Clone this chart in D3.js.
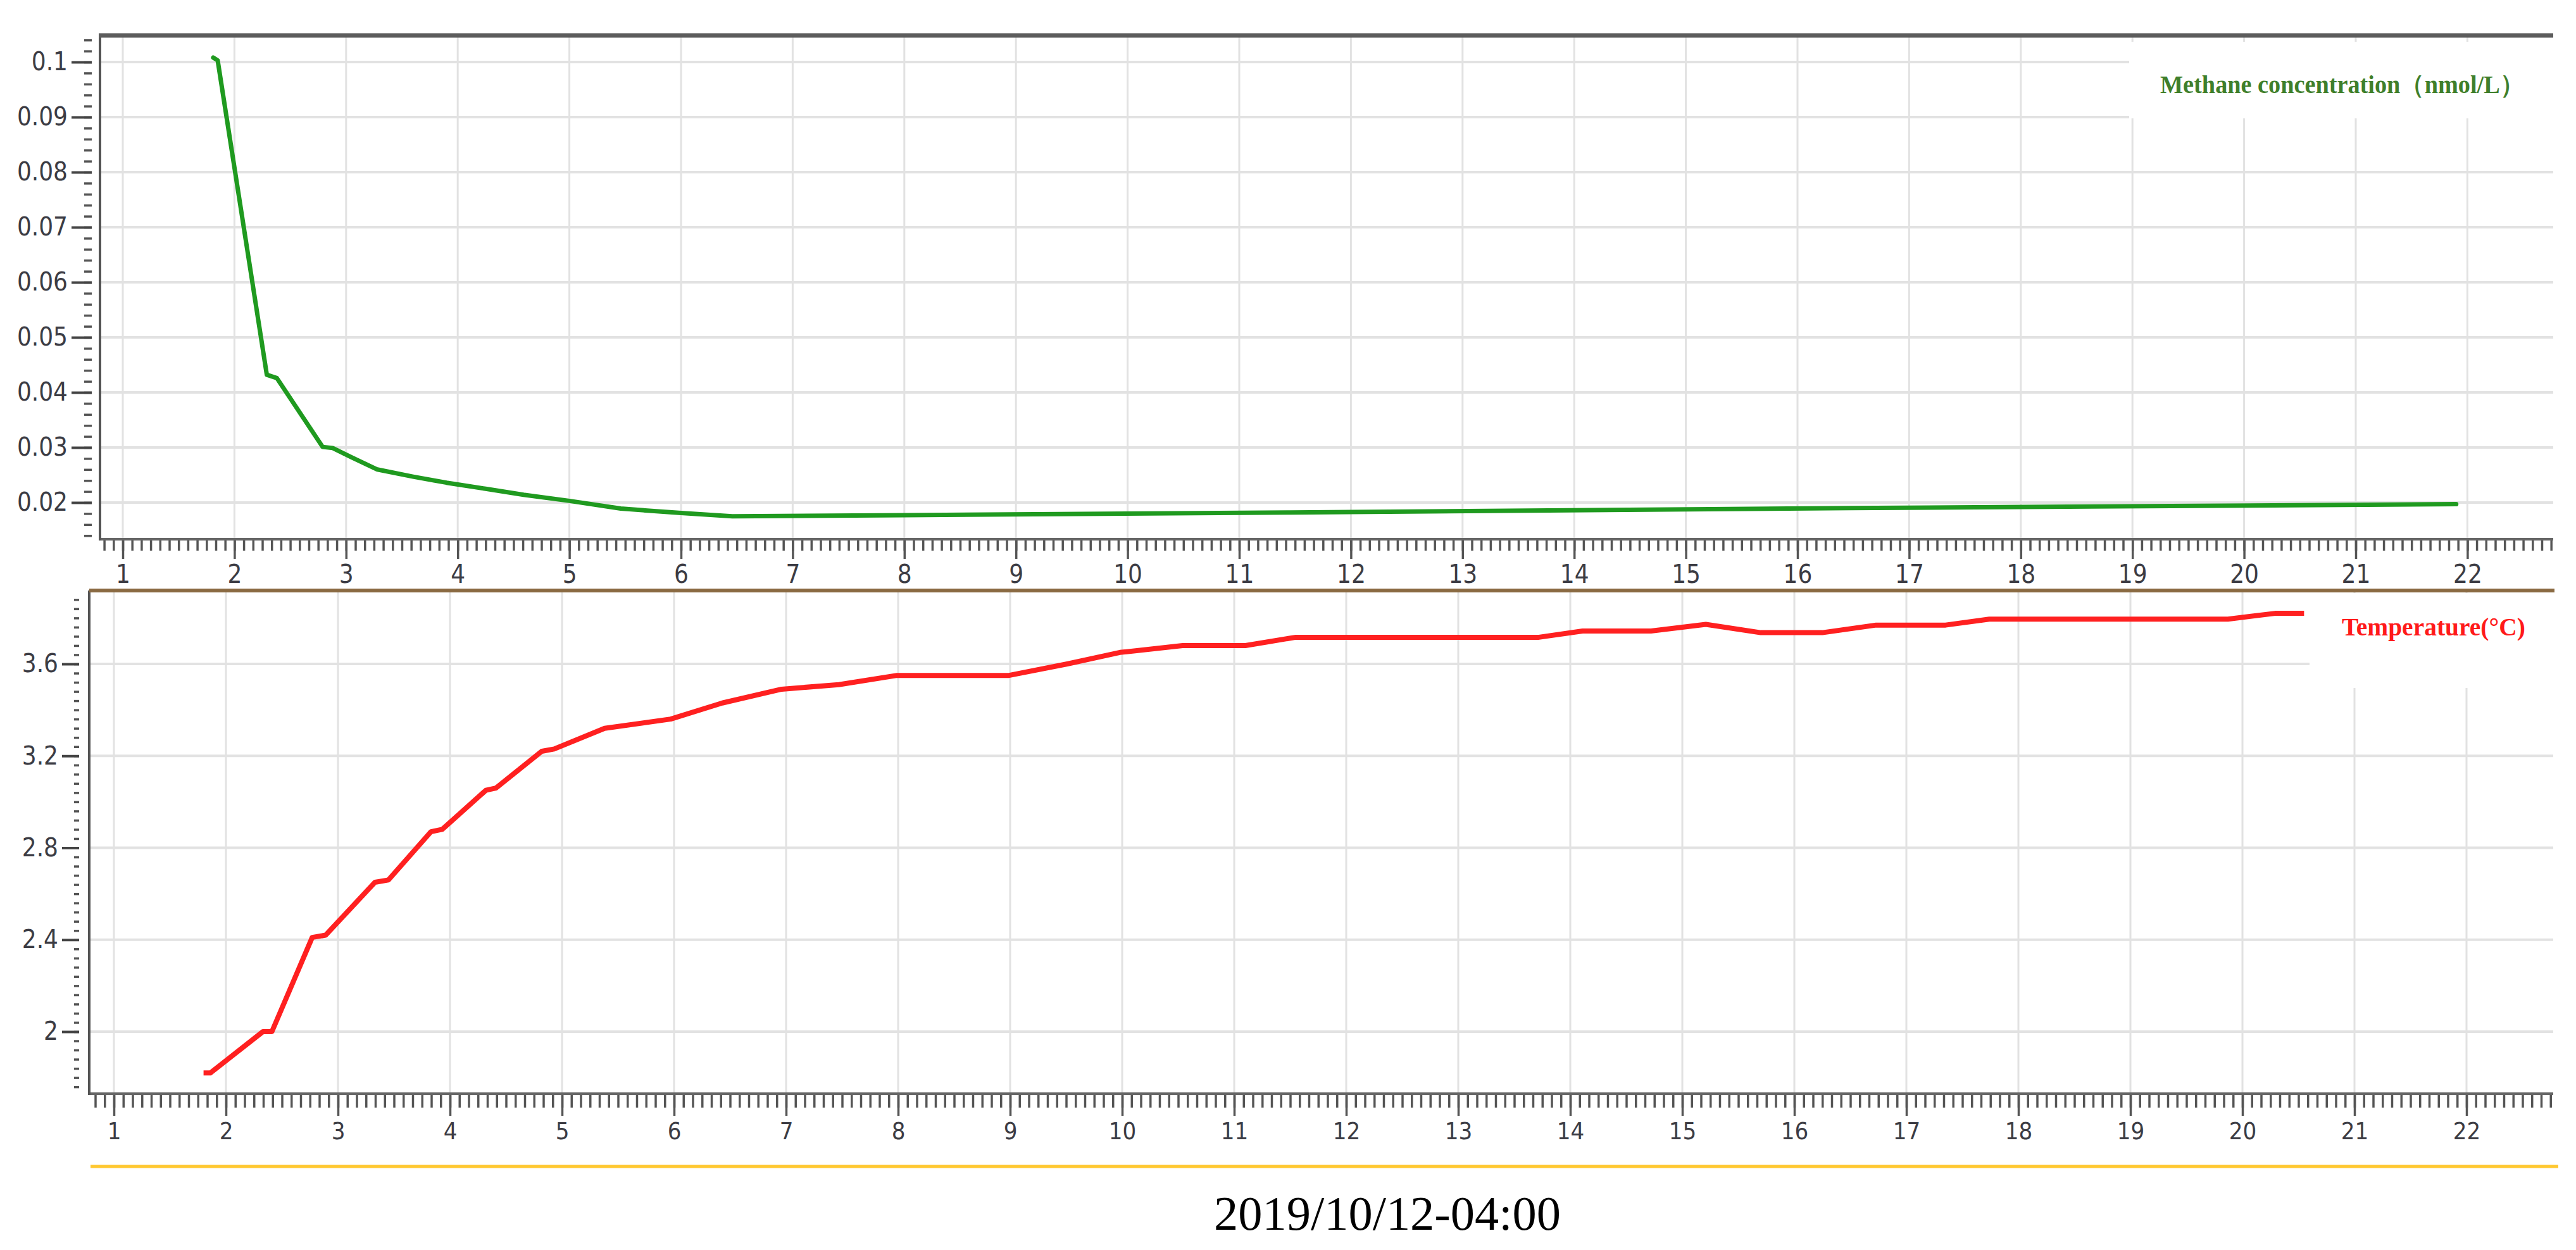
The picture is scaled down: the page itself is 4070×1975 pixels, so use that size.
<!DOCTYPE html>
<html><head><meta charset="utf-8">
<script src="https://cdn.jsdelivr.net/npm/d3@7"></script>
<style>
html,body{margin:0;padding:0;background:#fff;}
svg{display:block;}
.tick-label{font-family:"Liberation Sans Narrow","DejaVu Sans Condensed","Arial Narrow",sans-serif;fill:#3c3c44;}
</style></head>
<body>
<svg id="chart" width="4070" height="1975"></svg>
<script>
// ---------- data ----------
const xTickValues = [1,2,3,4,5,6,7,8,9,10,11,12,13,14,15,16,17,18,19,20,21,22];
const methaneTicks = [0.02,0.03,0.04,0.05,0.06,0.07,0.08,0.09,0.1];
const methaneTickLabels = ["0.02","0.03","0.04","0.05","0.06","0.07","0.08","0.09","0.1"];
const tempTicks = [2,2.4,2.8,3.2,3.6];
const tempTickLabels = ["2","2.4","2.8","3.2","3.6"];

const methaneX = [1.81,1.85,2.29,2.38,2.79,2.88,3.05,3.28,3.60,3.90,4.25,4.59,5.00,5.46,6.00,6.46,8.00,11.46,16.46,21.90];
const methaneY = [0.1008,0.1003,0.0432,0.0426,0.0301,0.0299,0.0282,0.0260,0.0247,0.0236,0.0225,0.0214,0.0203,0.0189,0.0181,0.0175,0.0177,0.0182,0.0190,0.0197];

const tempX = [1.80,1.86,2.33,2.41,2.77,2.89,3.33,3.45,3.83,3.93,4.32,4.41,4.82,4.93,5.38,5.97,6.43,6.96,7.47,7.99,8.99,9.51,9.98,10.54,11.10,11.55,13.72,14.11,14.72,15.21,15.70,16.25,16.73,17.35,17.74,19.87,20.29,20.55];
const tempY = [1.82,1.82,2.00,2.00,2.41,2.42,2.65,2.66,2.87,2.88,3.05,3.06,3.22,3.23,3.32,3.36,3.43,3.49,3.51,3.55,3.55,3.60,3.65,3.68,3.68,3.716,3.716,3.743,3.743,3.772,3.736,3.736,3.769,3.769,3.795,3.795,3.82,3.82];

const methaneLabel = "Methane concentration（nmol/L）";
const tempLabel = "Temperature(°C)";
const dateLabel = "2019/10/12-04:00";

(function(){
// ---------- layout ----------
const svg = d3.select("#chart");
const topP = {left:158, right:4034, top:56, bottom:852};
const botP = {left:141, right:4034, top:933, bottom:1728};

const xTop = d3.scaleLinear().domain([1,22]).range([194, 194+21*176.4]);
const yTop = d3.scaleLinear().domain([0.02,0.1]).range([794, 98]);
const xBot = d3.scaleLinear().domain([1,22]).range([180, 180+21*177]);
const yBot = d3.scaleLinear().domain([2,3.6]).range([1630, 1049]);

const gridColor = "#e2e2e2";

function drawPanel(p, xs, ys, yTicksV, yLabels, opts){
  const g = svg.append("g");
  g.selectAll(".vg").data(xTickValues).join("line")
    .attr("x1", d=>xs(d)).attr("x2", d=>xs(d))
    .attr("y1", p.top).attr("y2", p.bottom)
    .attr("stroke", gridColor).attr("stroke-width", 3);
  g.selectAll(".hg").data(yTicksV).join("line")
    .attr("x1", p.left).attr("x2", p.right)
    .attr("y1", d=>ys(d)).attr("y2", d=>ys(d))
    .attr("stroke", gridColor).attr("stroke-width", 4);

  g.append("rect").attr("x", opts.box[0]).attr("y", opts.box[1])
    .attr("width", opts.box[2]).attr("height", opts.box[3]).attr("fill", "#fff");

  const x0 = xs.invert(p.left+4), x1 = xs.invert(p.right);
  const minor = d3.range(Math.ceil(x0*12), Math.floor(x1*12)+1).map(k=>k/12);
  g.append("g").attr("transform", `translate(0,${p.bottom})`)
    .call(d3.axisBottom(xs).tickValues(minor).tickSize(opts.minorLen).tickFormat(""))
    .call(a=>a.select(".domain").remove())
    .call(a=>a.selectAll("line").attr("stroke","#555").attr("stroke-width",3.5));
  const xa = g.append("g").attr("transform", `translate(0,${p.bottom})`)
    .call(d3.axisBottom(xs).tickValues(xTickValues).tickSize(opts.majorLen).tickPadding(opts.labelPad).tickFormat(d3.format("d")));
  xa.select(".domain").remove();
  xa.selectAll("line").attr("stroke","#555").attr("stroke-width",3.5);
  xa.selectAll("text").attr("class","tick-label").attr("font-size", opts.xFont);
  g.append("line").attr("x1", p.left-2).attr("x2", p.right)
    .attr("y1", p.bottom).attr("y2", p.bottom)
    .attr("stroke","#666").attr("stroke-width",4);

  const yDom = [ys.invert(p.bottom), ys.invert(p.top)];
  const yMinor = d3.range(Math.ceil(yDom[0]/opts.yMinorStep), Math.floor(yDom[1]/opts.yMinorStep)+1).map(k=>k*opts.yMinorStep);
  g.append("g").attr("transform", `translate(${opts.rulerX},0)`)
    .call(d3.axisLeft(ys).tickValues(yMinor).tickSize(opts.yMinorLen).tickFormat(""))
    .call(a=>a.select(".domain").remove())
    .call(a=>a.selectAll("line").attr("stroke","#555").attr("stroke-width",3.5));
  const ya = g.append("g").attr("transform", `translate(${opts.rulerX},0)`)
    .call(d3.axisLeft(ys).tickValues(yTicksV).tickSize(opts.yMajorLen).tickPadding(6).tickFormat((d,i)=>yLabels[i]));
  ya.select(".domain").remove();
  ya.selectAll("line").attr("stroke","#444").attr("stroke-width",4);
  ya.selectAll("text").attr("class","tick-label").attr("font-size", opts.yFont);
  g.append("line").attr("x1", p.left).attr("x2", p.left)
    .attr("y1", p.top).attr("y2", p.bottom+2)
    .attr("stroke","#555").attr("stroke-width",4);
  return g;
}

drawPanel(topP, xTop, yTop, methaneTicks, methaneTickLabels, {
  box:[3364, 66, 680, 121], minorLen:18, majorLen:31, labelPad:10, xFont:40,
  rulerX:145, yMinorStep:0.002, yMinorLen:12, yMajorLen:32, yFont:40
});
svg.append("line").attr("x1", topP.left-2).attr("x2", topP.right)
  .attr("y1", topP.top).attr("y2", topP.top).attr("stroke","#5c5c5c").attr("stroke-width",7);

drawPanel(botP, xBot, yBot, tempTicks, tempTickLabels, {
  box:[3649, 937, 395, 150], minorLen:22, majorLen:35, labelPad:10, xFont:38,
  rulerX:125, yMinorStep:0.04, yMinorLen:8, yMajorLen:27, yFont:40
});
svg.append("line").attr("x1", botP.left).attr("x2", 4036)
  .attr("y1", botP.top).attr("y2", botP.top).attr("stroke","#8a6a42").attr("stroke-width",6);

// ---------- lines ----------
const methaneLine = d3.line().x(d=>xTop(d[0])).y(d=>yTop(d[1]));
svg.append("path").datum(methaneX.map((x,i)=>[x, methaneY[i]]))
  .attr("d", methaneLine).attr("fill","none").attr("stroke","#1f9a1f")
  .attr("stroke-width",7).attr("stroke-linejoin","round").attr("stroke-linecap","round");

const tempLine = d3.line().x(d=>xBot(d[0])).y(d=>yBot(d[1]));
svg.append("path").datum(tempX.map((x,i)=>[x, tempY[i]]))
  .attr("d", tempLine).attr("fill","none").attr("stroke","#ff2020")
  .attr("stroke-width",8).attr("stroke-linejoin","round");

// ---------- legends ----------
svg.append("text").attr("x", 3413).attr("y", 147)
  .attr("font-family","'Liberation Serif','Times New Roman',serif").attr("font-weight","bold")
  .attr("font-size",40).attr("fill","#3f7f2b")
  .attr("textLength",575).attr("lengthAdjust","spacingAndGlyphs")
  .text(methaneLabel);
svg.append("text").attr("x", 3700).attr("y", 1004)
  .attr("font-family","'Liberation Serif','Times New Roman',serif").attr("font-weight","bold")
  .attr("font-size",40).attr("fill","#ff1a1a")
  .attr("textLength",290).attr("lengthAdjust","spacingAndGlyphs")
  .text(tempLabel);

svg.append("line").attr("x1",143).attr("x2",4042).attr("y1",1843).attr("y2",1843)
  .attr("stroke","#ffc830").attr("stroke-width",5);

svg.append("text").attr("x", 1918).attr("y", 1943)
  .attr("font-family","'Liberation Serif','Times New Roman',serif")
  .attr("font-size",76).attr("fill","#000")
  .attr("textLength",548).attr("lengthAdjust","spacingAndGlyphs")
  .text(dateLabel);
})();
</script>
</body></html>
